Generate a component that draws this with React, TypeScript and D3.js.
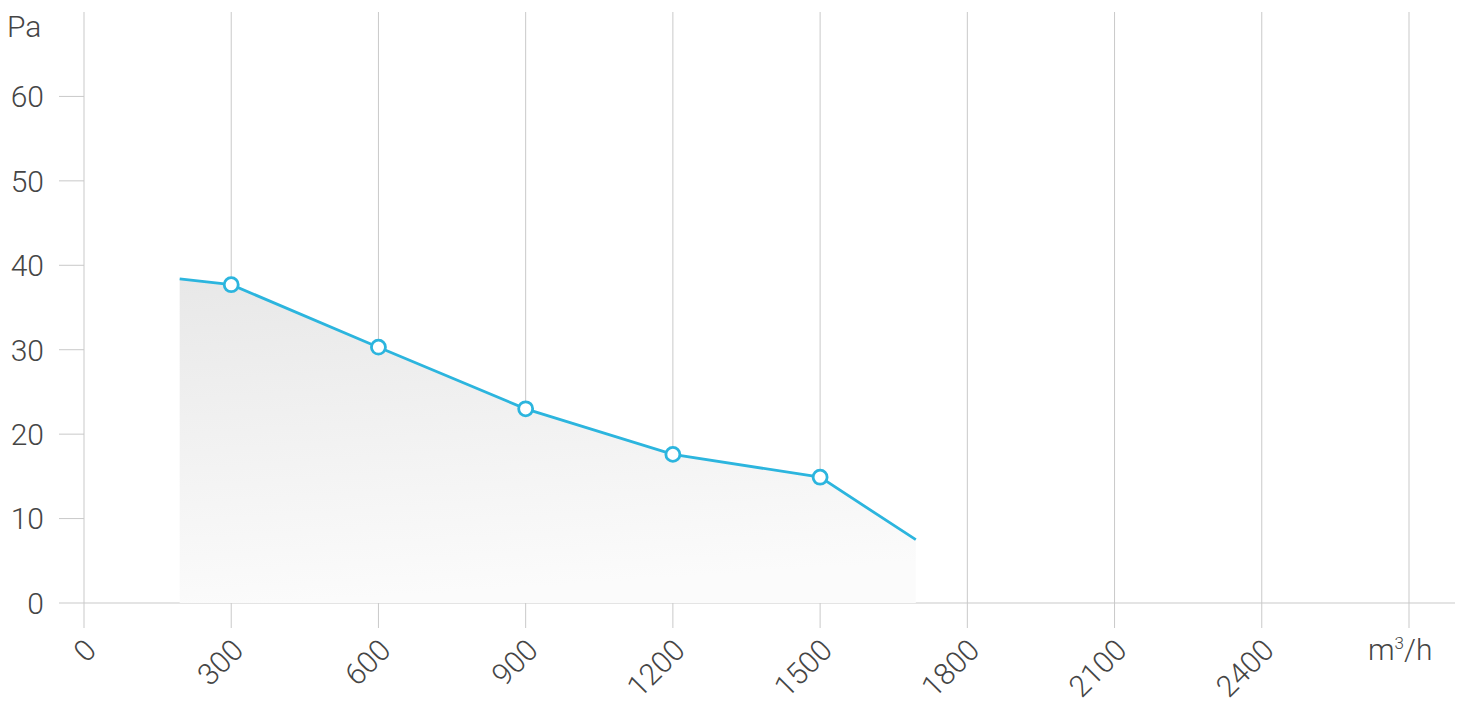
import React from "react";
import * as d3 from "d3";

const curveX = [195, 300, 600, 900, 1200, 1500, 1695];
const curveY = [38.4, 37.7, 30.3, 23.0, 17.6, 14.9, 7.5];
const markerX = [300, 600, 900, 1200, 1500];
const xTicks = [0, 300, 600, 900, 1200, 1500, 1800, 2100, 2400, 2700];
const xTickLabels = ["0", "300", "600", "900", "1200", "1500", "1800", "2100", "2400", ""];
const yTicks = [0, 10, 20, 30, 40, 50, 60];
const yUnit = "Pa";

const W = 1459;
const H = 710;

export default function App() {
  const x = d3.scaleLinear().domain([0, 2700]).range([84, 1409]);
  const y = d3.scaleLinear().domain([0, 70]).range([603, 12]);
  const pts = curveX.map((v, i) => ({ x: v, y: curveY[i] }));
  const line = d3.line<{ x: number; y: number }>().x((d) => x(d.x)).y((d) => y(d.y));
  const area = d3
    .area<{ x: number; y: number }>()
    .x((d) => x(d.x))
    .y0(y(0))
    .y1((d) => y(d.y));
  const markers = pts.filter((p) => markerX.includes(p.x));
  const textColor = "#454545";
  const gridColor = "#c9c9c9";
  const lineColor = "#2cb5de";
  const font = "Roboto, sans-serif";
  const fs = 30;

  return (
    <svg
      width={W}
      height={H}
      style={{ position: "absolute", left: 0, top: 0, background: "#fff" }}
      fontFamily={font}
    >
      <defs>
        <linearGradient id="areaGrad" x1="0" y1="0" x2="0.15" y2="1">
          <stop offset="0%" stopColor="#e8e8e8" />
          <stop offset="100%" stopColor="#fbfbfb" />
        </linearGradient>
      </defs>
      {xTicks.map((t) => (
        <line key={"g" + t} x1={x(t)} x2={x(t)} y1={y(70)} y2={628} stroke={gridColor} strokeWidth={1} />
      ))}
      {yTicks.map((t) => (
        <g key={"y" + t}>
          <line x1={59} x2={t === 0 ? 1455 : x(0)} y1={y(t)} y2={y(t)} stroke={gridColor} strokeWidth={1} />
          <text x={44} y={y(t)} dy="0.36em" textAnchor="end" fontSize={fs} fontWeight={300} fill={textColor}>
            {t}
          </text>
        </g>
      ))}
      <text x={7} y={37} fontSize={fs} fontWeight={300} fill={textColor}>
        {yUnit}
      </text>
      <path d={area(pts) || ""} fill="url(#areaGrad)" />
      <path d={line(pts) || ""} fill="none" stroke={lineColor} strokeWidth={2.8} />
      {markers.map((p) => (
        <circle key={"m" + p.x} cx={x(p.x)} cy={y(p.y)} r={7} fill="#fff" stroke={lineColor} strokeWidth={2.8} />
      ))}
      {xTicks.map((t, i) =>
        xTickLabels[i] ? (
          <text
            key={"xl" + t}
            transform={`translate(${x(t) + 14},652) rotate(-45)`}
            textAnchor="end"
            fontSize={fs}
            fontWeight={300}
            fill={textColor}
          >
            {xTickLabels[i]}
          </text>
        ) : null
      )}
      <text x={1368} y={660} fontSize={fs} fontWeight={300} fill={textColor}>
        m
        <tspan fontSize={17} dy={-11}>3</tspan>
        <tspan dy={11}>/h</tspan>
      </text>
    </svg>
  );
}
